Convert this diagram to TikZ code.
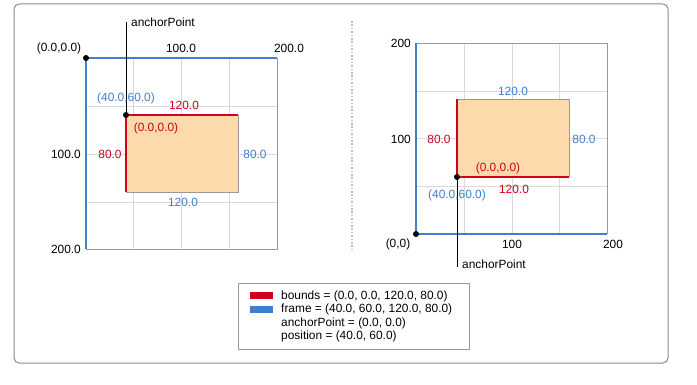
\documentclass[tikz,border=0pt]{standalone}
\usepackage{fontspec}
\setmainfont{Liberation Sans}
\definecolor{myblue}{HTML}{3F7FCC}
\definecolor{myred}{HTML}{D0021B}
\definecolor{peach}{HTML}{FDDAAB}
\definecolor{gridgray}{HTML}{DADADA}
\definecolor{edgegray}{HTML}{999999}
\definecolor{framegray}{HTML}{8A8A8A}
\definecolor{sepgray}{HTML}{BBBBBB}
\begin{document}
\begin{tikzpicture}[x=1pt,y=-1pt,
  font=\fontsize{11.9}{14}\selectfont,
  gridline/.style={draw=gridgray, line width=0.9pt},
  axisblue/.style={draw=myblue, line width=1.5pt},
  edgeline/.style={draw=edgegray, line width=0.9pt},
  redline/.style={draw=myred, line width=1.3pt},
  apdot/.style={circle, fill=black, inner sep=0pt, minimum size=6pt},
  lbl/.style={inner sep=0pt, text=black},
  redlbl/.style={inner sep=0pt, text=myred},
  bluelbl/.style={inner sep=0pt, text=myblue},
  leader/.style={draw=black, line width=0.9pt},
  swatch/.style={inner sep=0pt, minimum width=23pt, minimum height=7pt}
]
\useasboundingbox (0,0) rectangle (697,385);
% outer frame
\draw[framegray, line width=1pt, rounded corners=5pt] (14,4) rectangle (668,363);

% ---------------- left plot ----------------
\foreach \gx in {133,181,229} \draw[gridline] (\gx,58) -- (\gx,249);
\foreach \gy in {106,154,202} \draw[gridline] (86,\gy) -- (277,\gy);
\draw[edgeline] (277,58) -- (277,249) -- (86,249);
\draw[axisblue] (86,249) -- (86,58) -- (277,58);
\fill[peach] (126,115) rectangle (238,192);
\draw[edgeline] (238,115) -- (238,192) -- (126,192);
\draw[redline] (126,192) -- (126,115) -- (238,115);
\node[apdot] (o1) at (86,58) {};
\node[apdot] (a1) at (126,115) {};
\coordinate (a1top) at (126,22);
\draw[leader] (a1) -- (a1top);
\node[lbl, anchor=west] (ap1) at (131,22) {anchorPoint};
\node[lbl] (l1o) at (59,48) {(0.0,0.0)};
\node[lbl] (l1x1) at (181,48) {100.0};
\node[lbl] (l1x2) at (289,48) {200.0};
\node[lbl, anchor=east] (l1y1) at (81,154) {100.0};
\node[lbl, anchor=east] (l1y2) at (81,249) {200.0};
\node[bluelbl] (l1pos) at (126,98) {(40.0,60.0)};
\node[redlbl] (l1w) at (184,105) {120.0};
\node[redlbl] (l1b) at (156,128) {(0.0,0.0)};
\node[redlbl] (l1h) at (110,154) {80.0};
\node[bluelbl] (l1fh) at (255,154) {80.0};
\node[bluelbl] (l1fw) at (183,202) {120.0};

% separator
\draw[sepgray, line width=1.6pt, dash pattern=on 1.6pt off 1.8pt] (352,21) -- (352,250);

% ---------------- right plot ----------------
\foreach \gx in {464,512,559} \draw[gridline] (\gx,43) -- (\gx,234);
\foreach \gy in {91,138,186} \draw[gridline] (416,\gy) -- (607,\gy);
\draw[edgeline] (416,43) -- (607,43) -- (607,234);
\draw[axisblue] (416,43) -- (416,234) -- (607,234);
\fill[peach] (457,99) rectangle (569,177);
\draw[edgeline] (457,99) -- (569,99) -- (569,177);
\draw[redline] (457,99) -- (457,177) -- (569,177);
\node[apdot] (o2) at (416,234) {};
\node[apdot] (a2) at (457,177) {};
\coordinate (a2bot) at (457,267);
\draw[leader] (a2) -- (a2bot);
\node[lbl, anchor=west] (ap2) at (462,264) {anchorPoint};
\node[lbl, anchor=east] (l2y2) at (411,43) {200};
\node[lbl, anchor=east] (l2y1) at (411,139) {100};
\node[lbl] (l2o) at (398,244) {(0,0)};
\node[lbl] (l2x1) at (512,244) {100};
\node[lbl] (l2x2) at (613,244) {200};
\node[bluelbl] (l2fw) at (513,91) {120.0};
\node[redlbl] (l2h) at (439,139) {80.0};
\node[bluelbl] (l2fh) at (584,139) {80.0};
\node[redlbl] (l2b) at (498,168) {(0.0,0.0)};
\node[redlbl] (l2w) at (514,189) {120.0};
\node[bluelbl] (l2pos) at (457,195) {(40.0,60.0)};

% ---------------- legend ----------------
\draw[edgegray, line width=0.9pt] (238,283) rectangle (469,349);
\node[swatch, fill=myred] (swr) at (261.5,295.5) {};
\node[swatch, fill=myblue] (swb) at (261.5,309.5) {};
\node[lbl, anchor=west] (t1) at (281,296) {bounds = (0.0, 0.0, 120.0, 80.0)};
\node[lbl, anchor=west] (t2) at (281,309.5) {frame = (40.0, 60.0, 120.0, 80.0)};
\node[lbl, anchor=west] (t3) at (281,323) {anchorPoint = (0.0, 0.0)};
\node[lbl, anchor=west] (t4) at (281,336.5) {position = (40.0, 60.0)};
\end{tikzpicture}
\end{document}
